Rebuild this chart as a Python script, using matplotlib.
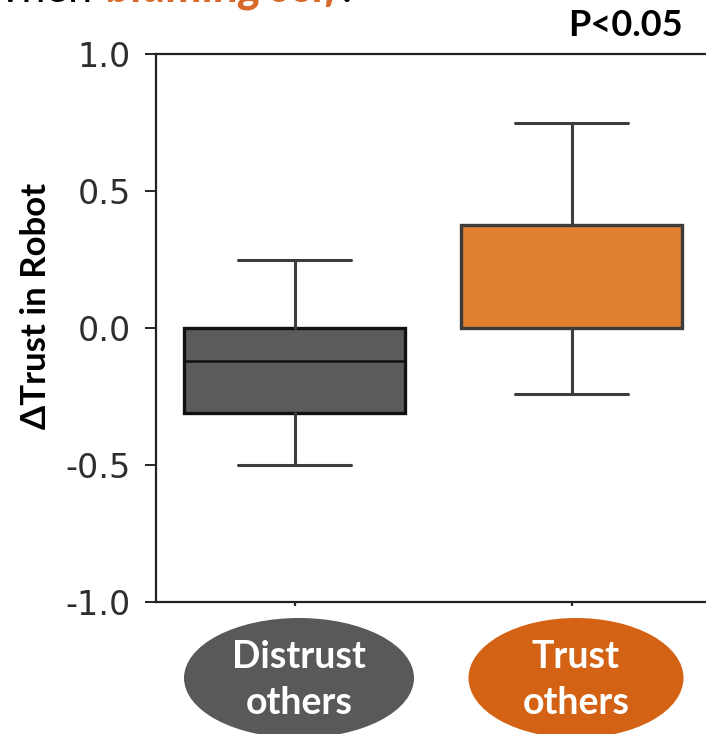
import matplotlib
matplotlib.use("Agg")
import matplotlib.pyplot as plt
from matplotlib.patches import Ellipse

# Summary statistics of the change in trust for each group
groups = ["Distrust\nothers", "Trust\nothers"]
medians = [-0.12, 0.0]
q1s = [-0.31, 0.0]
q3s = [0.0, 0.375]
whisk_lo = [-0.50, -0.24]
whisk_hi = [0.25, 0.75]

y_ticks = [1.0, 0.5, 0.0, -0.5, -1.0]
y_tick_labels = ["1.0", "0.5", "0.0", "-0.5", "-1.0"]

box_fill = ["#5b5b5b", "#e0802e"]
box_edge = ["#111111", "#3b3b3b"]
badge_color = ["#595959", "#d46214"]

W, H = 706, 734
fig = plt.figure(figsize=(W / 100, H / 100), dpi=100)
fig.patch.set_facecolor("white")

def fx(px):
    return px / W

def fy(py):
    return 1 - py / H

ax = fig.add_axes([fx(156), fy(602), 554 / W, 548 / H])

stats = []
for name, med, q1, q3, lo, hi in zip(groups, medians, q1s, q3s, whisk_lo, whisk_hi):
    stats.append(dict(label=name, med=med, q1=q1, q3=q3, whislo=lo, whishi=hi, fliers=[]))

bp = ax.bxp(stats, positions=range(len(groups)), widths=0.8, capwidths=0.41,
            patch_artist=True, showfliers=False)

for i, box in enumerate(bp["boxes"]):
    box.set_facecolor(box_fill[i])
    box.set_edgecolor(box_edge[i])
    box.set_linewidth(2.4)
for line in bp["whiskers"] + bp["caps"]:
    line.set_color("#3d3d3d")
    line.set_linewidth(2.2)
    line.set_solid_capstyle("round")
for i, line in enumerate(bp["medians"]):
    line.set_color(box_edge[i])
    line.set_linewidth(1.8)

ax.set_xlim(-0.5, 1.5)
ax.set_ylim(-1.0, 1.0)
ax.set_yticks(y_ticks)
ax.set_yticklabels(y_tick_labels, fontsize=24, color="#2e2e2e", family="DejaVu Sans")
ax.set_xticks(range(len(groups)))
ax.set_xticklabels([])
ax.tick_params(axis="y", length=8, width=1.4, pad=10, colors="#262626")
ax.tick_params(axis="x", length=3, width=1.6, colors="#262626")
ax.tick_params(axis="y", labelcolor="#2e2e2e")
for side in ["left", "top", "bottom"]:
    ax.spines[side].set_color("#222222")
    ax.spines[side].set_linewidth(1.6)
ax.spines["right"].set_visible(False)

# Axis title placed in figure coordinates
fig.text(fx(36), fy(306), "\u0394Trust in Robot", fontsize=25, fontweight="bold",
         family=["Lato", "DejaVu Sans"], color="black", rotation=90,
         ha="center", va="center")

# Significance note
fig.text(fx(625), fy(25), "P<0.05", fontsize=26, fontweight="bold",
         family="Lato", ha="center", va="center", color="black")

# Group badges under the axis
centers = [299, 576]
widths = [230, 215]
for i, name in enumerate(groups):
    e = Ellipse((fx(centers[i]), fy(678)), widths[i] / W, 120 / H,
                transform=fig.transFigure, facecolor=badge_color[i],
                edgecolor="none")
    fig.add_artist(e)
    fig.text(fx(centers[i]), fy(680), name, fontsize=27, fontweight="bold",
             family="Lato", ha="center", va="center", color="white",
             linespacing=1.45)

# Heading line, clipped at the top edge
fig.canvas.draw()
renderer = fig.canvas.get_renderer()
fig.text(fx(92), fy(2), "When", fontsize=31, family="Lato",
         ha="right", va="baseline", color="black")
t2 = fig.text(fx(107), fy(2), "blaming self", fontsize=33, family="Lato",
              fontweight="bold", style="italic", ha="left", va="baseline",
              color="#d8692a")
ext = t2.get_window_extent(renderer)
fig.text(ext.x1 / W + fx(2), fy(2), ".", fontsize=31, family="Lato",
         ha="left", va="baseline", color="black")

fig.savefig("out.png", dpi=100)
